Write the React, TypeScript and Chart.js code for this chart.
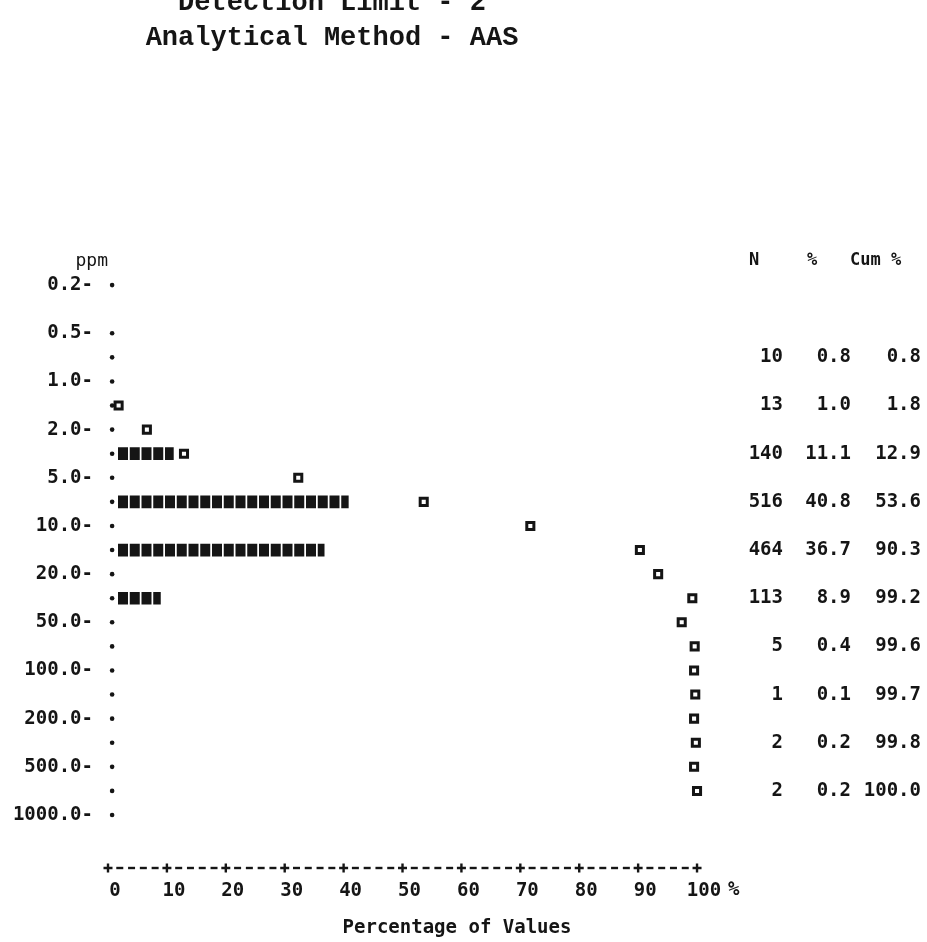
import React, { useEffect, useRef } from "react";
import { Chart, registerables } from "chart.js";

Chart.register(...registerables);

// ---------- data ----------
const titleLines = ["Detection Limit - 2", "Analytical Method - AAS"];
const yAxisUnit = "ppm";
const xAxisTitle = "Percentage of Values";
const tableHeaders = ["N", "%", "Cum %"];

// printout rows: even rows are class limits, odd rows are classes
const classLimitRows = [0, 2, 4, 6, 8, 10, 12, 14, 16, 18, 20, 22];
const classLimitLabels = ["0.2", "0.5", "1.0", "2.0", "5.0", "10.0", "20.0", "50.0", "100.0", "200.0", "500.0", "1000.0"];
const dotRows = [0, 2, 3, 4, 5, 6, 7, 8, 9, 10, 11, 12, 13, 14, 15, 16, 17, 18, 19, 20, 21, 22];

const classRows = [3, 5, 7, 9, 11, 13, 15, 17, 19, 21];
const counts = [10, 13, 140, 516, 464, 113, 5, 1, 2, 2];
const percents = [0.8, 1.0, 11.1, 40.8, 36.7, 8.9, 0.4, 0.1, 0.2, 0.2];
const cumPercents = [0.8, 1.8, 12.9, 53.6, 90.3, 99.2, 99.6, 99.7, 99.8, 100.0];

// cumulative markers printed on the class-limit rows
const limitCumRows = [6, 8, 10, 12, 14, 16, 18, 20];
const limitCumPercents = [6.6, 32.3, 71.7, 93.4, 97.4, 99.5, 99.5, 99.5];

const xTickValues = [0, 10, 20, 30, 40, 50, 60, 70, 80, 90, 100];

// ---------- styles ----------
const INK = "#151515";
const MONO = "'DejaVu Sans Mono', 'Liberation Mono', monospace";
const TITLE_FONT = "'Liberation Mono', 'Courier New', monospace";

function makeBlockPattern(): CanvasPattern | string {
  const c = document.createElement("canvas");
  c.width = 47;
  c.height = 12;
  const g = c.getContext("2d");
  if (!g) return INK;
  g.fillStyle = INK;
  [0.5, 12.25, 24, 35.75].forEach((o) => g.fillRect(o, 0, 10, 12));
  const p = g.createPattern(c, "repeat");
  return p || INK;
}

const printoutPlugin = {
  id: "printoutText",
  afterDraw(chart: any) {
    const { ctx, chartArea, scales } = chart;
    const xs = scales.x;
    const ys = scales.y;
    ctx.save();
    ctx.fillStyle = INK;
    ctx.strokeStyle = INK;

    // title
    ctx.font = `bold 27px ${TITLE_FONT}`;
    ctx.textAlign = "center";
    ctx.textBaseline = "alphabetic";
    titleLines.forEach((t, i) => ctx.fillText(t, 332, 10 + i * 35));

    // "+----+----+" axis
    const axisY = chartArea.bottom;
    ctx.lineWidth = 2.4;
    for (let k = 0; k < xTickValues.length; k++) {
      const px = xs.getPixelForValue(xTickValues[k]);
      ctx.beginPath();
      ctx.moveTo(px - 4.5, axisY);
      ctx.lineTo(px + 4.5, axisY);
      ctx.moveTo(px, axisY - 4.5);
      ctx.lineTo(px, axisY + 4.5);
      ctx.stroke();
      if (k < xTickValues.length - 1) {
        const nx = xs.getPixelForValue(xTickValues[k + 1]);
        const cell = (nx - px) / 5;
        for (let j = 1; j <= 4; j++) {
          const c = px + cell * j;
          ctx.beginPath();
          ctx.moveTo(c - 3.5, axisY);
          ctx.lineTo(c + 3.5, axisY);
          ctx.stroke();
        }
      }
    }

    // "%" after the 100 tick
    ctx.font = `bold 19px ${MONO}`;
    ctx.textBaseline = "middle";
    ctx.textAlign = "left";
    ctx.fillText("%", xs.getPixelForValue(100) + 31, axisY + 22);

    // unit label
    const headY = ys.getPixelForValue(-1);
    ctx.font = `18px ${MONO}`;
    ctx.textAlign = "right";
    ctx.fillText(yAxisUnit, chartArea.left, headY);

    // table header
    ctx.font = `bold 17px ${MONO}`;
    ctx.textAlign = "center";
    ctx.fillText(tableHeaders[0], 754, headY);
    ctx.fillText(tableHeaders[1], 812, headY);
    ctx.textAlign = "left";
    ctx.fillText(tableHeaders[2], 850, headY);

    // table rows
    ctx.font = `bold 19px ${MONO}`;
    ctx.textAlign = "right";
    classRows.forEach((r, i) => {
      const y = ys.getPixelForValue(r);
      ctx.fillText(String(counts[i]), 783, y);
      ctx.fillText(percents[i].toFixed(1), 851, y);
      ctx.fillText(cumPercents[i].toFixed(1), 921, y);
    });
    ctx.restore();
  },
};

export default function App() {
  const canvasRef = useRef<HTMLCanvasElement | null>(null);

  useEffect(() => {
    const canvas = canvasRef.current;
    if (!canvas) return;

    const cumPoints = classRows
      .map((r, i) => ({ x: cumPercents[i], y: r }))
      .filter((p) => p.x > 1); // the 0.8 marker is hidden under the axis dot in the printout
    const limitPoints = limitCumRows.map((r, i) => ({ x: limitCumPercents[i], y: r }));
    const barPoints = classRows
      .map((r, i) => ({ x: percents[i], y: r }))
      .filter((p) => p.x >= 2); // printout prints one block per 2 %

    const chart = new Chart(canvas, {
      type: "scatter",
      data: {
        datasets: [
          {
            type: "scatter",
            label: "Cumulative %",
            data: [...cumPoints, ...limitPoints],
            pointStyle: "rect",
            pointRadius: 5,
            pointHoverRadius: 5,
            borderWidth: 3,
            borderColor: INK,
            backgroundColor: "#ffffff",
            order: 0,
          } as any,
          {
            type: "scatter",
            label: "Axis",
            data: dotRows.map((r) => ({ x: 0.7, y: r })),
            pointStyle: "circle",
            pointRadius: 2.3,
            pointHoverRadius: 2.3,
            borderWidth: 0,
            backgroundColor: INK,
            order: 1,
          } as any,
          {
            type: "bar",
            label: "%",
            indexAxis: "y",
            data: barPoints,
            base: 1.7,
            barThickness: 12,
            backgroundColor: makeBlockPattern(),
            borderWidth: 0,
            order: 2,
          } as any,
        ],
      },
      options: {
        animation: false,
        responsive: false,
        maintainAspectRatio: false,
        events: [],
        layout: { padding: { top: 261, right: 121, bottom: 0, left: 0 } },
        plugins: {
          legend: { display: false },
          tooltip: { enabled: false },
          title: { display: false },
        },
        scales: {
          x: {
            type: "linear",
            position: "bottom",
            min: 0,
            max: 118.5,
            offset: false,
            beginAtZero: false,
            afterBuildTicks: (s: any) => {
              s.ticks = xTickValues.map((v) => ({ value: v }));
            },
            afterFit: (s: any) => {
              s.height = 74;
            },
            grid: { display: false, drawTicks: false, offset: false },
            border: { display: false },
            ticks: {
              autoSkip: false,
              maxRotation: 0,
              padding: 12,
              labelOffset: 7,
              color: INK,
              font: { family: MONO, size: 19, weight: "bold" },
              callback: (v: any) => String(v),
            },
            title: {
              display: true,
              text: xAxisTitle,
              color: INK,
              font: { family: MONO, size: 19, weight: "bold" },
              padding: { top: 0, bottom: 3 },
            },
          },
          y: {
            type: "linear",
            min: -1,
            max: 24.2,
            reverse: true,
            offset: false,
            afterBuildTicks: (s: any) => {
              s.ticks = classLimitRows.map((v) => ({ value: v }));
            },
            afterFit: (s: any) => {
              s.width = 108;
            },
            grid: { display: false, drawTicks: false, offset: false },
            border: { display: false },
            ticks: {
              autoSkip: false,
              padding: 15,
              color: INK,
              font: { family: MONO, size: 19, weight: "bold" },
              callback: (v: any) => {
                const i = classLimitRows.indexOf(Number(v));
                return i >= 0 ? classLimitLabels[i] + "-" : "";
              },
            },
          },
        },
      } as any,
      plugins: [printoutPlugin],
    });

    return () => chart.destroy();
  }, []);

  return (
    <div style={{ position: "fixed", left: 0, top: 0, width: 927, height: 942, background: "#ffffff" }}>
      <canvas ref={canvasRef} width={927} height={942} />
    </div>
  );
}
